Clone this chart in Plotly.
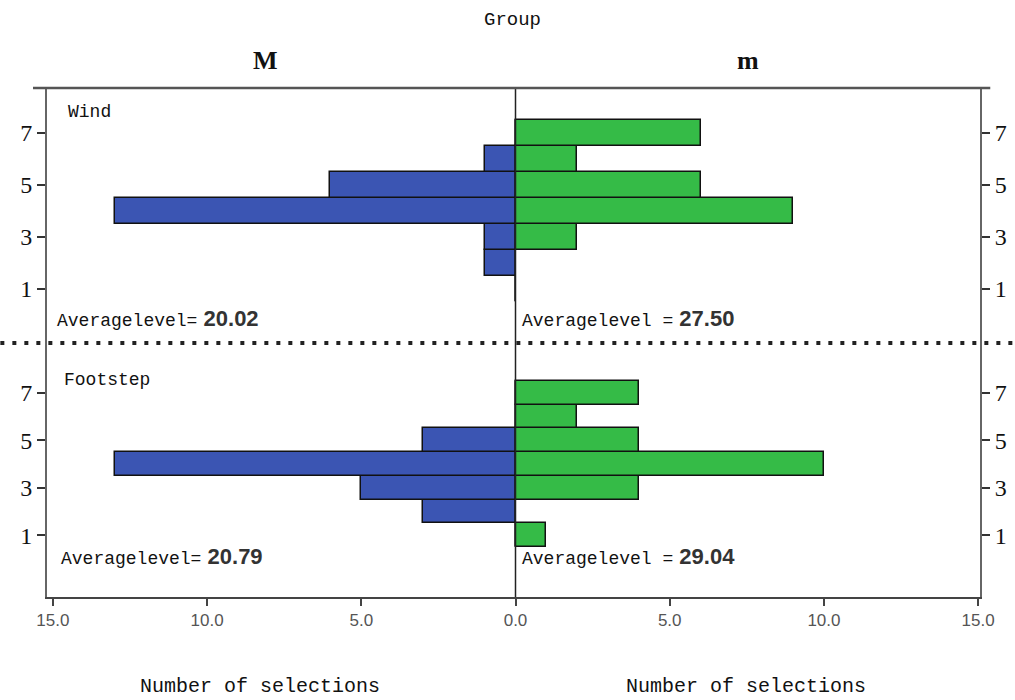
import plotly.graph_objects as go

levels = [1, 2, 3, 4, 5, 6, 7]
wind_M = [0, 1, 1, 13, 6, 1, 0]
wind_m = [0, 0, 2, 9, 6, 2, 6]
foot_M = [0, 3, 5, 13, 3, 0, 0]
foot_m = [1, 0, 4, 10, 4, 2, 4]
x_tickvals = [-15, -10, -5, 0, 5, 10, 15]
x_ticktext = ["15.0", "10.0", "5.0", "0.0", "5.0", "10.0", "15.0"]
y_ticks = [1, 3, 5, 7]
avg_text = {"wind_M": "20.02", "wind_m": "27.50", "foot_M": "20.79", "foot_m": "29.04"}

BLUE = "#3b55b3"
GREEN = "#35bb47"
MONO = "Liberation Mono, monospace"
SERIF = "Liberation Serif, serif"
SANS = "Liberation Sans, Arial, sans-serif"

fig = go.Figure()

def bar(vals, sign, color, xa, ya):
    fig.add_trace(go.Bar(
        y=levels, x=[sign * v for v in vals], base=0, orientation="h",
        marker=dict(color=color, line=dict(color="#111111", width=1.5)),
        width=1.0, xaxis=xa, yaxis=ya, showlegend=False, hoverinfo="skip"))

bar(wind_M, -1, BLUE, "x2", "y2")
bar(wind_m, 1, GREEN, "x2", "y2")
bar(foot_M, -1, BLUE, "x", "y")
bar(foot_m, 1, GREEN, "x", "y")

# invisible traces for right-side axes
fig.add_trace(go.Scatter(x=[0], y=[1], xaxis="x2", yaxis="y4", mode="markers",
                         marker=dict(opacity=0), showlegend=False, hoverinfo="skip"))
fig.add_trace(go.Scatter(x=[0], y=[1], xaxis="x", yaxis="y3", mode="markers",
                         marker=dict(opacity=0), showlegend=False, hoverinfo="skip"))

XR = [-15.19, 15.06]
TOP_R = [-1.08, 8.73]
BOT_R = [-1.61, 9.10]
split = 254 / 509

yax_common = dict(tickvals=y_ticks, ticks="outside", ticklen=8, tickwidth=1.5,
                  tickcolor="#333", showline=True, linecolor="#666", linewidth=2,
                  showgrid=False, zeroline=False,
                  tickfont=dict(family=SERIF, size=24, color="#111"))

fig.update_layout(
    width=1015, height=700,
    margin=dict(l=47, r=35, t=88, b=103, autoexpand=False),
    plot_bgcolor="white", paper_bgcolor="white",
    barmode="overlay", bargap=0,
    xaxis=dict(domain=[0, 1], anchor="y", range=XR, tickvals=x_tickvals, ticktext=x_ticktext,
               ticks="outside", ticklen=7, tickwidth=2, tickcolor="#444",
               showline=True, linecolor="#444", linewidth=2, showgrid=False, zeroline=False,
               tickfont=dict(family=SANS, size=17, color="#555")),
    xaxis2=dict(domain=[0, 1], anchor="y2", range=XR, showticklabels=False, ticks="",
                showgrid=False, zeroline=False, showline=False),
    yaxis=dict(domain=[0, split], range=BOT_R, anchor="x", side="left", **yax_common),
    yaxis2=dict(domain=[split, 1], range=TOP_R, anchor="x2", side="left", **yax_common),
    yaxis3=dict(range=BOT_R, overlaying="y", side="right", anchor="x", **yax_common),
    yaxis4=dict(range=TOP_R, overlaying="y2", side="right", anchor="x2", **yax_common),
)

# center vertical line at 0
fig.add_shape(type="line", xref="x", yref="paper", x0=0, x1=0, y0=0, y1=1,
              line=dict(color="#222", width=1.5), layer="above")
# top border
fig.add_shape(type="line", xref="paper", yref="paper", x0=-0.015, x1=1.011, y0=1, y1=1,
              line=dict(color="#555", width=2.5))
# dotted separator
fig.add_shape(type="line", xref="paper", yref="paper", x0=-0.05, x1=1.04, y0=split, y1=split,
              line=dict(color="#222", width=4, dash="4px,8px"))

def ann(text, x, y, size, family, xanchor="center", color="#111"):
    fig.add_annotation(text=text, xref="paper", yref="paper",
                       x=(x - 47) / 933, y=(597 - y) / 509,
                       showarrow=False, xanchor=xanchor, yanchor="middle",
                       font=dict(size=size, family=family, color=color))

ann("Group", 512, 20, 19, MONO)
ann("<b>M</b>", 265, 60, 26, SERIF)
ann("<b>m</b>", 748, 60, 26, SERIF)
ann("Wind", 66, 112, 18, MONO, xanchor="left")
ann("Footstep", 62, 380, 18, MONO, xanchor="left")

num = "<span style='font-family:Liberation Sans, Arial;font-weight:bold;font-size:22px;color:#333'>%s</span>"
ann("Averagelevel=" + num % (" " + avg_text["wind_M"]), 55, 318, 18, MONO, xanchor="left")
ann("Averagelevel =" + num % (" " + avg_text["wind_m"]), 520, 318, 18, MONO, xanchor="left")
ann("Averagelevel=" + num % (" " + avg_text["foot_M"]), 59, 556, 18, MONO, xanchor="left")
ann("Averagelevel =" + num % (" " + avg_text["foot_m"]), 520, 556, 18, MONO, xanchor="left")

ann("Number of selections", 260, 686, 20, MONO)
ann("Number of selections", 746, 686, 20, MONO)

fig.write_html("out.html", config={"displayModeBar": False},
               post_script="document.body.style.margin='0px';")
